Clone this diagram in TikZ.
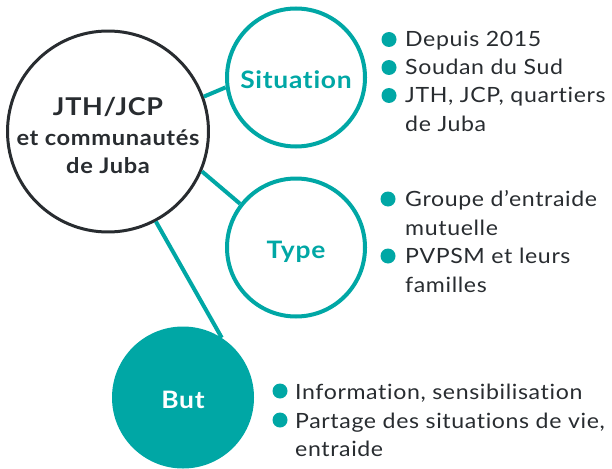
\documentclass[tikz,border=0pt]{standalone}
\usepackage{fontspec}
\setmainfont{Lato}[FakeStretch=1.1,LetterSpace=3,Ligatures=NoCommon]
\begin{document}
\definecolor{teal}{RGB}{0,167,165}
\definecolor{ink}{RGB}{40,44,48}
\begin{tikzpicture}[x=1pt,y=-1pt,
  hub/.style={circle,draw=ink,line width=3pt,minimum size=188pt,inner sep=0pt,
    text=ink,align=center,font=\fontsize{21.5}{28}\selectfont\bfseries},
  ring/.style={circle,draw=teal,line width=4pt,fill=white,minimum size=138pt,inner sep=0pt,
    text=teal,text height=22pt,text depth=0pt,font=\fontsize{24}{28}\selectfont\bfseries},
  disc/.style={circle,fill=teal,minimum size=142pt,inner sep=0pt,
    text=white,text height=22pt,text depth=0pt,font=\fontsize{24}{28}\selectfont\bfseries},
  link/.style={draw=teal,line width=4pt},
  dot/.style={circle,fill=teal,minimum size=15pt,inner sep=0pt},
  item/.style={anchor=base west,inner sep=0pt,align=left,text=ink,
    font=\fontsize{21}{28.5}\selectfont}]
\useasboundingbox (0,0) rectangle (612,468);

\coordinate (hc) at (108,131.5);
\coordinate (sc) at (296,77.5);
\coordinate (tc) at (296,247.5);
\coordinate (bc) at (183,397.5);

% the four circles
\node[hub] (hub) at (hc) {{\fontsize{24.5}{28}\selectfont JTH/JCP}\rule{0pt}{26pt}\\[2pt]
  et communautés\\de Juba};
\node[ring] (sit) at (sc) {Situation};
\node[ring] (typ) at (tc) {Type};
\node[disc] (but) at (bc) {But};

% spokes from the centre circle
\draw[link] (hub.20.6) -- (sit.188.4);
\draw[link] (hub.-23.9) -- (typ.142);
\draw[link] (hub.-62.2) -- (but.57);

% Situation (multi-line items sit on the baseline of their last line)
\node[dot] (s1) at (389,39.5) {};
\node[item] (t1) at (405,47) {Depuis 2015};
\node[dot] (s2) at (389,67.5) {};
\node[item] (t2) at (405,75) {Soudan du Sud};
\node[dot] (s3) at (389,95.5) {};
\node[item] (t3) at (405,131.5) {JTH, JCP, quartiers\\de Juba};

% Type
\node[dot] (y1) at (388,199) {};
\node[item] (u1) at (405,235) {Groupe d’entraide\\mutuelle};
\node[dot] (y2) at (388,256) {};
\node[item] (u2) at (405,292) {PVPSM et leurs\\familles};

% But
\node[dot] (b1) at (280,391) {};
\node[item] (v1) at (295,399) {Information, sensibilisation};
\node[dot] (b2) at (280,420) {};
\node[item] (v2) at (295,456.5) {Partage des situations de vie,\\entraide};
\end{tikzpicture}
\end{document}
